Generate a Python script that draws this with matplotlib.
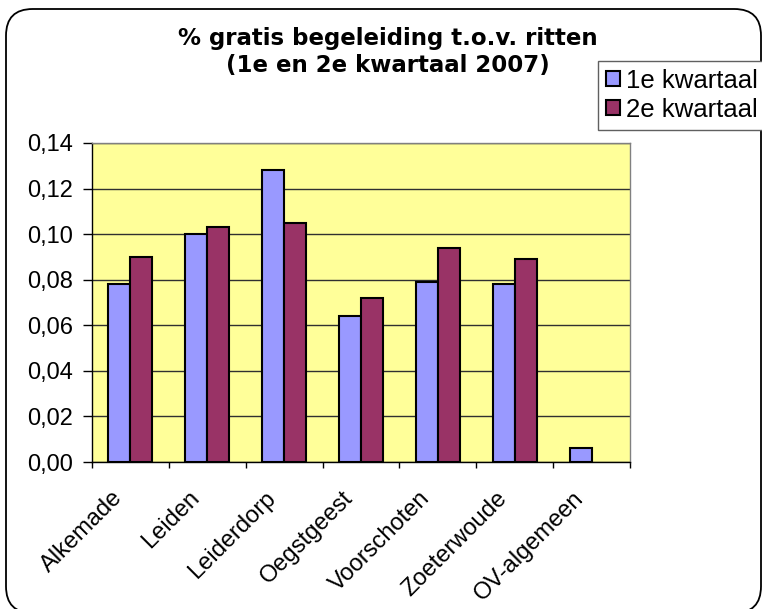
import numpy as np
import matplotlib
matplotlib.use("Agg")
import matplotlib.pyplot as plt
from matplotlib.patches import FancyBboxPatch
from matplotlib.transforms import ScaledTranslation
from matplotlib.ticker import FuncFormatter

# data
plaatsen = ['Alkemade', 'Leiden', 'Leiderdorp', 'Oegstgeest',
            'Voorschoten', 'Zoeterwoude', 'OV-algemeen']
kwartaal1 = [0.078, 0.100, 0.128, 0.064, 0.079, 0.078, 0.006]
kwartaal2 = [0.090, 0.103, 0.105, 0.072, 0.094, 0.089, 0.0]
series_names = ['1e kwartaal', '2e kwartaal']
yticks = [0.00, 0.02, 0.04, 0.06, 0.08, 0.10, 0.12, 0.14]

W, H = 762, 609
fig = plt.figure(figsize=(W/100., H/100.), dpi=100)
fig.patch.set_facecolor('white')

# rounded outer frame (bottom runs just past the edge of the picture)
frame = FancyBboxPatch((6./W, -4./H), 755./W, 604./H,
                       boxstyle="round,pad=0,rounding_size=0.035",
                       transform=fig.transFigure, fill=False,
                       edgecolor='black', linewidth=1.3, clip_on=False,
                       mutation_aspect=W/float(H))
fig.patches.append(frame)

ax = fig.add_axes([92./W, 1-462./H, 538./W, 319./H])
ax.set_facecolor('#FFFF99')

x = np.arange(len(plaatsen))
w = 0.286
b1 = ax.bar(x - w/2, kwartaal1, w, color='#9999FF', edgecolor='black',
            linewidth=1.5, label=series_names[0], zorder=3)
b2 = ax.bar(x + w/2, kwartaal2, w, color='#993366', edgecolor='black',
            linewidth=1.5, label=series_names[1], zorder=3)
for bar in list(b1) + list(b2):
    if bar.get_height() == 0:
        bar.set_visible(False)

ax.set_xlim(-0.5, len(plaatsen) - 0.5)
ax.set_ylim(0, 0.14)
ax.set_yticks(yticks)
ax.yaxis.set_major_formatter(FuncFormatter(lambda v, p: ('%.2f' % v).replace('.', ',')))
ax.grid(axis='y', color='#303030', linewidth=1.0, zorder=1)
ax.set_axisbelow(True)

# category labels at centres, tick marks at the boundaries
ax.set_xticks(x)
ax.set_xticklabels(plaatsen, rotation=45, ha='right', va='top',
                   rotation_mode='anchor')
ax.set_xticks(np.arange(len(plaatsen) + 1) - 0.5, minor=True)
ax.tick_params(axis='x', which='major', length=0, pad=0)
ax.tick_params(axis='x', which='minor', length=4.5, width=1, direction='out')
ax.tick_params(axis='y', length=6.5, width=1, direction='out', pad=7)

for lab in ax.get_xticklabels():
    lab.set_fontfamily('Liberation Sans')
    lab.set_fontsize(17)
    lab.set_transform(lab.get_transform() +
                      ScaledTranslation(-0.19, -0.25, fig.dpi_scale_trans))
for lab in ax.get_yticklabels():
    lab.set_fontfamily('Liberation Sans')
    lab.set_fontsize(17)

for s in ['left', 'bottom']:
    ax.spines[s].set_color('black')
    ax.spines[s].set_linewidth(1.0)
for s in ['top', 'right']:
    ax.spines[s].set_color('#808080')
    ax.spines[s].set_linewidth(1.0)

fig.text(388./W, 1-45./H, '% gratis begeleiding t.o.v. ritten',
         ha='center', va='baseline', fontsize=16.5, fontweight='bold',
         family='DejaVu Sans')
fig.text(388./W, 1-72./H, '(1e en 2e kwartaal 2007)',
         ha='center', va='baseline', fontsize=16.5, fontweight='bold',
         family='DejaVu Sans')

leg = fig.legend(handles=[b1, b2], labels=series_names, loc='upper left',
                 bbox_to_anchor=(598./W, 1-61./H), borderaxespad=0,
                 prop={'family': 'Liberation Sans', 'size': 18.5},
                 handlelength=0.55, handleheight=0.55, handletextpad=0.25,
                 labelspacing=0.2, borderpad=0.3, fancybox=False,
                 framealpha=1, edgecolor='#606060')
leg.get_frame().set_linewidth(1.0)

fig.savefig('out.png', dpi=100)
